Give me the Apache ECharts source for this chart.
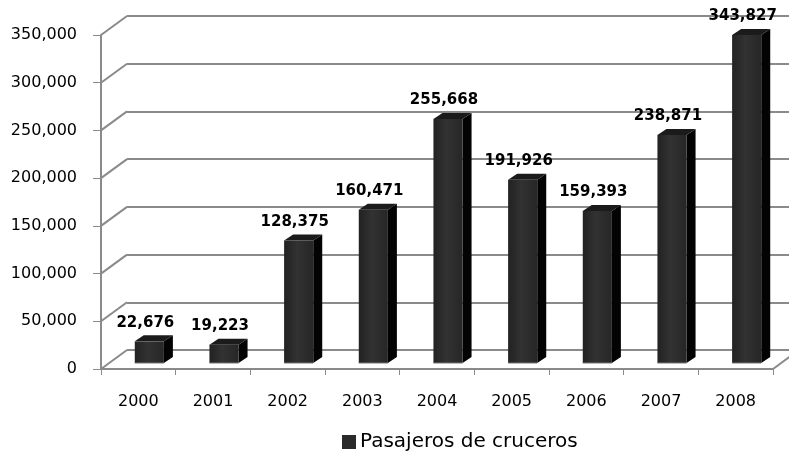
<!DOCTYPE html>
<html>
<head>
<meta charset="utf-8">
<script src="https://cdn.jsdelivr.net/npm/echarts@6/dist/echarts.min.js"></script>
<style>
  html, body { margin: 0; padding: 0; background: #fff; }
  #chart { width: 789px; height: 456px; }
</style>
</head>
<body>
<div id="chart"></div>
<script>
const years = ['2000', '2001', '2002', '2003', '2004', '2005', '2006', '2007', '2008'];
const pasajeros = [22676, 19223, 128375, 160471, 255668, 191926, 159393, 238871, 343827];
const seriesName = 'Pasajeros de cruceros';
const yMin = 0;
const yMax = 350000;
const yStep = 50000;
const wallTicks = [0, 50000, 100000, 150000, 200000, 250000, 300000, 350000];

const FONT = 'DejaVu Sans';
const GRID_COLOR = '#8a8a8a';
// 3d look: offsets in pixels
const WALL_DX = 26, WALL_DY = -19;
const BAR_DX = 11, BAR_DY = -6;
const DEPTH_DX = 9, DEPTH_DY = -6;

const fmt = v => Number(v).toLocaleString('en-US');

var chart = echarts.init(document.getElementById('chart'));

function renderBar(params, api) {
  const base = api.coord([api.value(0), 0]);
  const top = api.coord([api.value(0), api.value(1)]);
  const band = api.size([1, 0])[0];
  const w = band * 0.39;
  const cx = base[0] + BAR_DX;
  const x0 = cx - w / 2, x1 = cx + w / 2;
  const yb = base[1] + BAR_DY, yt = top[1] + BAR_DY;
  return {
    type: 'group',
    children: [
      {
        type: 'polygon',
        shape: { points: [[x1, yb], [x1 + DEPTH_DX, yb + DEPTH_DY], [x1 + DEPTH_DX, yt + DEPTH_DY], [x1, yt]] },
        style: { fill: '#030303' }
      },
      {
        type: 'polygon',
        shape: { points: [[x0, yt], [x1, yt], [x1 + DEPTH_DX, yt + DEPTH_DY], [x0 + DEPTH_DX, yt + DEPTH_DY]] },
        style: { fill: '#1b1b1b' }
      },
      {
        type: 'rect',
        shape: { x: x0, y: yt, width: w, height: yb - yt },
        style: {
          fill: new echarts.graphic.LinearGradient(0, 0, 1, 0, [
            { offset: 0, color: '#222' },
            { offset: 0.45, color: '#323232' },
            { offset: 1, color: '#262626' }
          ])
        }
      },
      {
        type: 'line',
        shape: { x1: x0, y1: yb, x2: x1, y2: yb },
        style: { stroke: '#777', lineWidth: 1 }
      },
      {
        type: 'text',
        x: cx - 4,
        y: yt + DEPTH_DY - 5,
        style: {
          text: fmt(api.value(1)),
          align: 'center',
          verticalAlign: 'bottom',
          font: 'bold 15px "' + FONT + '"',
          fill: '#000'
        }
      }
    ]
  };
}

function renderWall(params, api) {
  const cs = params.coordSys;
  const y = api.coord([0, api.value(1)])[1];
  const lines = [{
    type: 'line',
    shape: { x1: cs.x, y1: y, x2: cs.x + WALL_DX, y2: y + WALL_DY },
    style: { stroke: GRID_COLOR, lineWidth: 2 }
  }];
  if (api.value(1) === 0) {
    lines.push({
      type: 'line',
      shape: { x1: cs.x + cs.width, y1: y, x2: cs.x + cs.width + WALL_DX, y2: y + WALL_DY },
      style: { stroke: GRID_COLOR, lineWidth: 2 }
    });
  }
  return { type: 'group', children: lines };
}

var option = {
  backgroundColor: '#fff',
  animation: false,
  textStyle: { fontFamily: FONT },
  grid: [
    { left: 101 + WALL_DX, top: 35 + WALL_DY, width: 672, height: 334 },
    { left: 101, top: 35, width: 672, height: 334 }
  ],
  legend: {
    data: [seriesName],
    left: 342,
    top: 432,
    padding: 0,
    itemWidth: 14,
    itemHeight: 14,
    itemGap: 5,
    icon: 'rect',
    textStyle: { fontSize: 20, color: '#000', fontFamily: FONT, padding: [0, 0, 0, -1] }
  },
  xAxis: [
    {
      gridIndex: 0, type: 'category', data: years,
      axisLine: { show: false }, axisTick: { show: false }, axisLabel: { show: false }
    },
    {
      gridIndex: 1, type: 'category', data: years,
      axisLine: { show: true, lineStyle: { color: GRID_COLOR, width: 2 } },
      axisTick: { show: true, length: 6, lineStyle: { color: GRID_COLOR, width: 1 } },
      axisLabel: { color: '#000', fontSize: 16, margin: 25, fontFamily: FONT }
    }
  ],
  yAxis: [
    {
      gridIndex: 0, type: 'value', min: yMin, max: yMax, interval: yStep,
      axisLine: { show: false }, axisTick: { show: false }, axisLabel: { show: false },
      splitLine: { show: true, lineStyle: { color: GRID_COLOR, width: 2 } }
    },
    {
      gridIndex: 1, type: 'value', min: yMin, max: yMax, interval: yStep,
      axisLine: { show: true, lineStyle: { color: GRID_COLOR, width: 2 } },
      axisTick: { show: true, length: 8, lineStyle: { color: GRID_COLOR, width: 1 } },
      axisLabel: { color: '#000', fontSize: 16, margin: 24, fontFamily: FONT, formatter: fmt },
      splitLine: { show: false }
    }
  ],
  series: [
    {
      type: 'custom',
      name: 'wall',
      xAxisIndex: 1, yAxisIndex: 1,
      renderItem: renderWall,
      data: wallTicks.map(v => [0, v]),
      silent: true,
      z: 1
    },
    {
      type: 'custom',
      name: seriesName,
      xAxisIndex: 1, yAxisIndex: 1,
      itemStyle: { color: '#2a2a2a' },
      renderItem: renderBar,
      data: pasajeros.map((v, i) => [i, v]),
      z: 5
    }
  ]
};

chart.setOption(option);
</script>
</body>
</html>
